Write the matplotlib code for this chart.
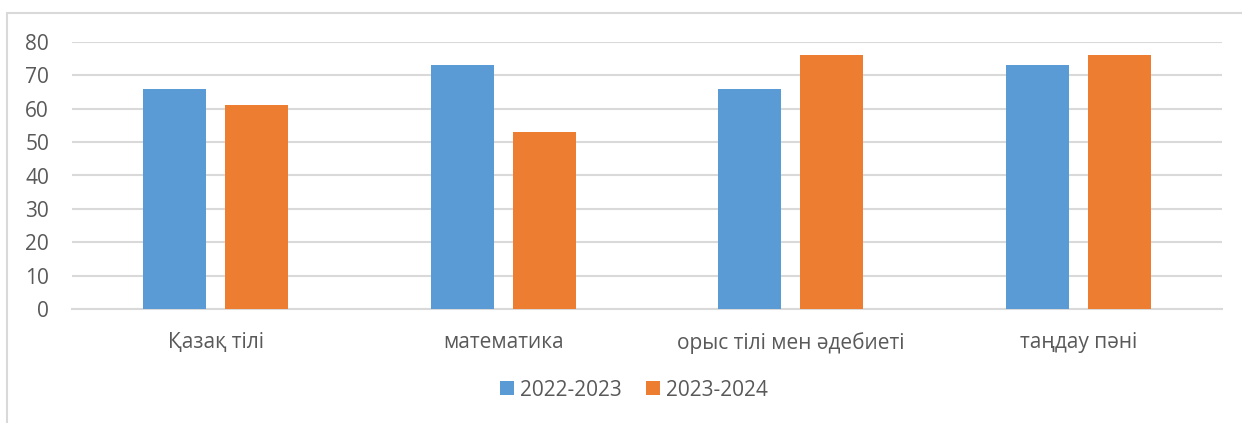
import matplotlib
matplotlib.use("Agg")
import matplotlib.pyplot as plt
import numpy as np
from matplotlib.patches import Rectangle

categories = ["Қазақ тілі", "математика", "орыс тілі мен әдебиеті", "таңдау пәні"]
series_names = ["2022-2023", "2023-2024"]
values_2022 = [66, 73, 66, 73]
values_2023 = [61, 53, 76, 76]
y_ticks = [0, 10, 20, 30, 40, 50, 60, 70, 80]

colors = ["#5B9BD5", "#ED7D31"]
text_color = "#595959"
grid_color = "#D9D9D9"
fs = 15

plt.rcParams["font.family"] = ["Open Sans", "DejaVu Sans"]

fig = plt.figure(figsize=(12.42, 4.23), dpi=100)
ax = fig.add_axes([72/1242, 1 - 309/423, (1222-72)/1242, (309-42)/423])

x = np.arange(len(categories))
w = 0.219
off = 0.143
ax.bar(x - off, values_2022, width=w, color=colors[0], label=series_names[0], zorder=3)
ax.bar(x + off, values_2023, width=w, color=colors[1], label=series_names[1], zorder=3)

ax.set_xlim(-0.5, len(categories) - 0.5)
ax.set_ylim(0, 80)
ax.set_yticks(y_ticks)
ax.set_yticklabels([str(v) for v in y_ticks])
ax.set_xticks(x)
ax.set_xticklabels(categories)
ax.yaxis.grid(True, color=grid_color, linewidth=1.5, zorder=0)
ax.set_axisbelow(True)
for s in ["top", "right", "left"]:
    ax.spines[s].set_visible(False)
ax.spines["bottom"].set_color(grid_color)
ax.spines["bottom"].set_linewidth(1.5)
ax.tick_params(axis="both", length=0, labelsize=fs, colors=text_color)
ax.tick_params(axis="y", pad=16.5)
ax.tick_params(axis="x", pad=16.5)

leg = fig.legend(loc="center", bbox_to_anchor=(634/1242, 1 - 390/423), ncol=2,
                 frameon=False, fontsize=fs, handlelength=0.67, handleheight=0.67,
                 handletextpad=0.29, columnspacing=1.2)
for t in leg.get_texts():
    t.set_color(text_color)

fig.patches.append(Rectangle((7/1242, -0.1), 1.2, 1 - 13/423 + 0.1,
                             transform=fig.transFigure, fill=False,
                             edgecolor=grid_color, linewidth=1.5))

fig.savefig("out.png", dpi=100)
